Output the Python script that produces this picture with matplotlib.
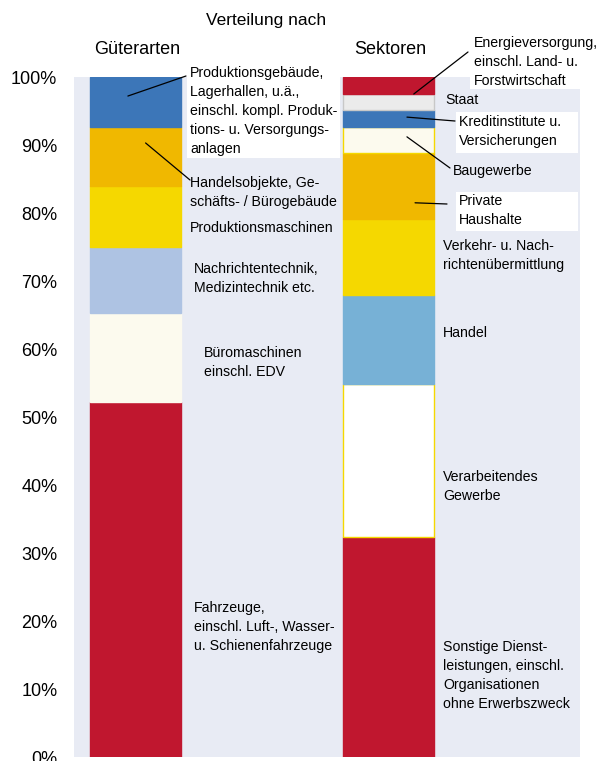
import matplotlib
matplotlib.use("Agg")
import matplotlib.pyplot as plt
from matplotlib.patches import Rectangle
import numpy as np

plt.rcParams['font.family'] = ['Liberation Sans', 'DejaVu Sans']

# === Data (percent shares, bottom to top) ===
gueter_labels = ["Fahrzeuge,\neinschl. Luft-, Wasser-\nu. Schienenfahrzeuge",
                 "Büromaschinen\neinschl. EDV",
                 "Nachrichtentechnik,\nMedizintechnik etc.",
                 "Produktionsmaschinen",
                 "Handelsobjekte, Ge-\nschäfts- / Bürogebäude",
                 "Produktionsgebäude,\nLagerhallen, u.ä.,\neinschl. kompl. Produk-\ntions- u. Versorgungs-\nanlagen"]
gueter_values = [52.2, 13.1, 9.7, 9.0, 8.6, 7.4]

sektor_labels = ["Sonstige Dienst-\nleistungen, einschl.\nOrganisationen\nohne Erwerbszweck",
                 "Verarbeitendes\nGewerbe",
                 "Handel",
                 "Verkehr- u. Nach-\nrichtenübermittlung",
                 "Private\nHaushalte",
                 "Baugewerbe",
                 "Kreditinstitute u.\nVersicherungen",
                 "Staat",
                 "Energieversorgung,\neinschl. Land- u.\nForstwirtschaft"]
sektor_values = [32.4, 22.5, 13.0, 11.2, 9.7, 3.8, 2.5, 2.4, 2.5]

bar_names = ["Güterarten", "Sektoren"]
yticks = np.arange(0, 101, 10)

# === Styles ===
gueter_colors = ["#C0172F", "#FCFAEE", "#AEC3E3", "#F5D800", "#F0B800", "#3C76B8"]
sektor_colors = ["#C0172F", "#FFFFFF", "#77B1D6", "#F5D800", "#F0B800", "#FCFAEE",
                 "#3C76B8", "#EBEBEB", "#C0172F"]
sektor_edges = ["#C0172F", "#F5D800", "#77B1D6", "#F5D800", "#F0B800", "#F5D800",
                "#3C76B8", "#C8C8C8", "#C0172F"]
BG = "#E8EBF4"

W, H = 607, 761
fig = plt.figure(figsize=(W / 100, H / 100), dpi=100)
ax = fig.add_axes([74 / W, 4 / H, (580 - 74) / W, (757 - 77) / H])
ax.set_facecolor(BG)

x_pos = [0, 1]
bar_w = 0.36
for x, vals, cols, edges in [(x_pos[0], gueter_values, gueter_colors, gueter_colors),
                             (x_pos[1], sektor_values, sektor_colors, sektor_edges)]:
    bottom = 0
    for v, c, e in zip(vals, cols, edges):
        ax.bar(x, v, bottom=bottom, width=bar_w, color=c, edgecolor=e, linewidth=1, zorder=1)
        bottom += v

ax.set_xlim(-0.243, 1.757)
ax.set_ylim(0, 100)
ax.set_yticks(yticks)
ax.set_yticklabels([f"{t}%" for t in yticks], fontsize=13)
ax.tick_params(axis='y', length=0, pad=12)
ax.set_xticks([])
for s in ax.spines.values():
    s.set_visible(False)


def fx(px):
    return px / W


def fy(py):
    return 1 - py / H


# white label boxes
for (x0, y0, x1, y1) in [(187, 45, 340, 158), (470, 25, 607, 89),
                         (456, 112, 578, 153), (456, 192, 578, 231)]:
    ax.add_patch(Rectangle((fx(x0), fy(y1)), fx(x1) - fx(x0), fy(y0) - fy(y1),
                           transform=fig.transFigure, facecolor="white",
                           edgecolor="none", clip_on=False, zorder=1.5))

# headings
fig.text(fx(266), fy(20), "Verteilung nach", ha="center", va="center", fontsize=12.5)
fig.text(fx(137), fy(49), bar_names[0], ha="center", va="center", fontsize=13)
fig.text(fx(390), fy(49), bar_names[1], ha="center", va="center", fontsize=13)

# segment labels (top-left pixel positions)
gueter_text_pos = [(194, 601), (204, 346), (194, 262), (190, 221), (190, 176), (190, 66)]
sektor_text_pos = [(443, 640), (443, 470), (443, 326), (443, 239), (459, 194),
                   (453, 164), (459, 115), (445, 93), (474, 36)]
for lab, (px, py) in zip(gueter_labels + sektor_labels, gueter_text_pos + sektor_text_pos):
    fig.text(fx(px), fy(py), lab, ha="left", va="top", fontsize=10.2, linespacing=1.45)

# leader lines: (bar x + offset, value inside segment, text end pixel)
leaders = [(x_pos[0] - 0.03, 97.2, (186, 76)),
           (x_pos[0] + 0.04, 90.3, (190, 180)),
           (x_pos[1] + 0.10, 97.5, (468, 52)),
           (x_pos[1] + 0.073, 94.1, (455, 121)),
           (x_pos[1] + 0.073, 91.2, (450, 168)),
           (x_pos[1] + 0.105, 81.5, (447, 204))]
for xd, yd, (px, py) in leaders:
    ax.annotate("", xy=(xd, yd), xytext=(px, H - py), textcoords="figure pixels",
                arrowprops=dict(arrowstyle="-", lw=0.9, color="black",
                                shrinkA=0, shrinkB=0), annotation_clip=False, zorder=3)

fig.savefig("out.png", dpi=100)
